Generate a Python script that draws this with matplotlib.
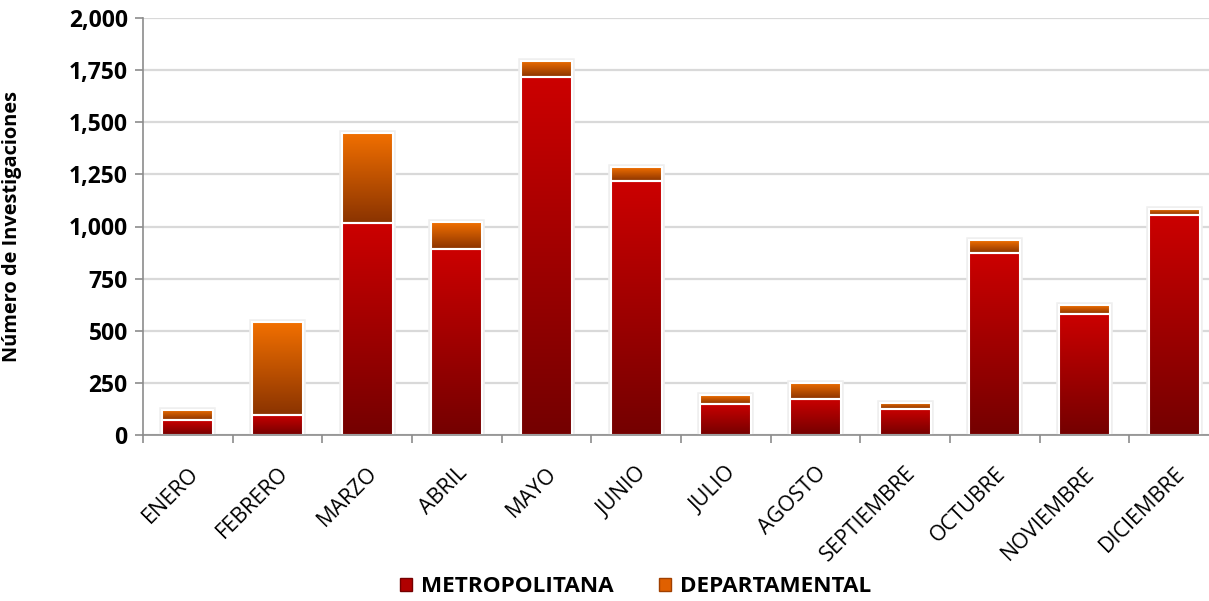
import numpy as np
import matplotlib
matplotlib.use("Agg")
import matplotlib.pyplot as plt
from matplotlib.colors import LinearSegmentedColormap
from matplotlib.patches import Patch
from matplotlib.ticker import FuncFormatter, MultipleLocator

meses = ["ENERO", "FEBRERO", "MARZO", "ABRIL", "MAYO", "JUNIO", "JULIO",
         "AGOSTO", "SEPTIEMBRE", "OCTUBRE", "NOVIEMBRE", "DICIEMBRE"]
metropolitana = [70, 97, 1015, 893, 1715, 1220, 150, 173, 125, 875, 582, 1053]
departamental = [50, 443, 435, 128, 80, 65, 40, 78, 29, 58, 40, 30]

plt.rcParams['font.family'] = ['Open Sans', 'DejaVu Sans']

fig = plt.figure(figsize=(12.09, 6.01), dpi=100)
ax = fig.add_axes([143 / 1209, 1 - 435 / 601, (1219 - 143) / 1209, (435 - 18) / 601])

x = np.arange(len(meses))
w = 0.57

cm_metro = LinearSegmentedColormap.from_list("m", ["#740000", "#cc0000"])
cm_depto = LinearSegmentedColormap.from_list("d", ["#8a3300", "#f27000"])

totales = np.array(metropolitana) + np.array(departamental)
# soft shadow behind the stacks
ax.bar(x, totales, w, color="none", edgecolor="#efefef", linewidth=4, zorder=2)

b1 = ax.bar(x, metropolitana, w, color="#b00000", edgecolor="white", linewidth=1.5, zorder=3)
b2 = ax.bar(x, departamental, w, bottom=metropolitana, color="#e06000",
            edgecolor="white", linewidth=1.5, zorder=3)

grad = np.linspace(0, 1, 256).reshape(-1, 1)
for bars, cmap in ((b1, cm_metro), (b2, cm_depto)):
    for r in bars:
        x0, y0 = r.get_x(), r.get_y()
        im = ax.imshow(grad, cmap=cmap, origin="lower", aspect="auto",
                       extent=[x0, x0 + r.get_width(), y0, y0 + r.get_height()],
                       zorder=3.5)
        im.set_clip_path(r)
        # white border on top of gradient
        ax.bar(x0 + r.get_width() / 2, r.get_height(), r.get_width(), bottom=y0,
               color="none", edgecolor="white", linewidth=1.5, zorder=4)

ax.set_xlim(-0.5, len(meses) - 0.5)
ax.set_ylim(0, 2000)
ax.yaxis.set_major_locator(MultipleLocator(250))
ax.yaxis.set_major_formatter(FuncFormatter(lambda v, p: f"{int(v):,}"))
ax.grid(axis="y", color="#d9d9d9", linewidth=1.6, zorder=0)

for s in ("top", "right"):
    ax.spines[s].set_visible(False)
for s in ("left", "bottom"):
    ax.spines[s].set_color("#8c8c8c")
    ax.spines[s].set_linewidth(1.2)
    ax.spines[s].set_zorder(5)

ax.set_xticks(x)
ax.set_xticklabels(meses, rotation=45, ha="right", rotation_mode="anchor", fontsize=15.5)
ax.set_xticks(np.arange(-0.5, len(meses), 1), minor=True)
ax.tick_params(axis="x", which="major", length=0, pad=20)
ax.tick_params(axis="x", which="minor", length=6, color="#8c8c8c", width=1.2)
ax.tick_params(axis="y", length=6, color="#8c8c8c", width=1.2, labelsize=16.5, pad=5)
for t in ax.get_yticklabels():
    t.set_fontweight("bold")

ax.set_ylabel("Número de Investigaciones", fontsize=14.4, fontweight="bold")
ax.yaxis.set_label_coords(-(143 - 22) / 1076, 0.5)

handles = [Patch(facecolor="#b00000", edgecolor="#740000"),
           Patch(facecolor="#e06000", edgecolor="#a04000")]
fig.legend(handles, ["METROPOLITANA", "DEPARTAMENTAL"], loc="center",
           bbox_to_anchor=(0.526, 1 - 587 / 601), ncol=2, frameon=False,
           prop={"weight": "bold", "size": 16.2}, handlelength=0.55, handleheight=0.55,
           handletextpad=0.4, columnspacing=2.0)

fig.savefig("out.png", dpi=100)
